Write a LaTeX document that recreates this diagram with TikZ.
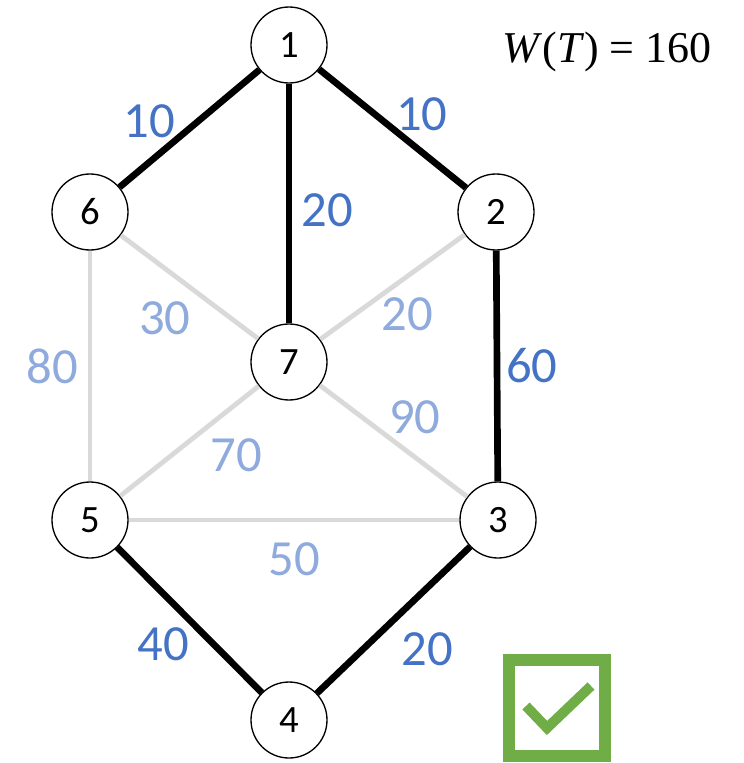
\documentclass[tikz,border=0pt]{standalone}
\usepackage{fontspec}
\setmainfont{Carlito}
\newfontfamily\timesfont{Liberation Serif}
\usetikzlibrary{positioning}
\definecolor{treeblue}{HTML}{4472C4}
\definecolor{restblue}{HTML}{8FAADC}
\definecolor{restgray}{HTML}{D9D9D9}
\definecolor{okgreen}{HTML}{70AD47}
\tikzset{wgt/.style={draw=none, fill=none, minimum size=0pt,
  inner sep=1pt, font=\fontsize{38}{38}\selectfont},
  tree/.style={draw=black, line width=5pt},
  rest/.style={draw=restgray, line width=3.6pt}}

\begin{document}
\begin{tikzpicture}[x=0.75pt, y=-0.75pt, every node/.style={circle, draw,
  line width=1pt, minimum size=57pt, inner sep=0pt,
  font=\fontsize{29}{29}\selectfont}]
  \useasboundingbox (0,0) rectangle (743,763);
  \node (n1) at (289, 45)  {1};
  \node (n6) at (90, 212)  {6};
  \node (n2) at (496, 212) {2};
  \node (n7) at (289, 362) {7};
  \node (n5) at (90, 520)  {5};
  \node (n3) at (498, 520) {3};
  \node (n4) at (289, 720) {4};
  % Spanning tree edges
  \draw[tree] (n1) -- node[wgt, treeblue, pos=0.6,
    above left=-3pt and 2pt] {10} (n6);
  \draw[tree] (n1) -- node[wgt, treeblue, pos=0.54,
    above right=-3pt and 0pt] {10} (n2);
  \draw[tree] (n1) -- node[wgt, treeblue, pos=0.53, right=4pt] {20} (n7);
  \draw[tree] (n2) -- node[wgt, treeblue, right=1pt] {60} (n3);
  \draw[tree] (n5) -- node[wgt, treeblue, below left=1pt and 2pt] {40} (n4);
  \draw[tree] (n3) -- node[wgt, treeblue, pos=0.45,
    below right=10pt and 2pt] {20} (n4);
  % Remaining edges (grey)
  \draw[rest] (n6) -- node[wgt, restblue, left=3pt] {80} (n5);
  \draw[rest] (n6) -- node[wgt, restblue, below left=6pt and 1pt] {30} (n7);
  \draw[rest] (n2) -- node[wgt, restblue, pos=0.56,
    below right=-2pt and 0pt] {20} (n7);
  \draw[rest] (n7) -- node[wgt, restblue, pos=0.46,
    above right=-3pt and 3pt] {90} (n3);
  \draw[rest] (n7) -- node[wgt, restblue, pos=0.36,
    below right=5pt and 3pt] {70} (n5);
  \draw[rest] (n5) -- node[wgt, restblue, below=5pt] {50} (n3);
  % Tree weight and check box
  \node[draw=none, minimum size=0pt, font=\fontsize{33}{33}\selectfont]
    (wt) at (607, 52) {\timesfont\textit{W}(\textit{T}) = 160};
  \draw[okgreen, line width=9pt] (509, 660) rectangle (605, 756);
  \draw[okgreen, line width=7.5pt] (526, 706) -- (547, 728) -- (591, 686);
\end{tikzpicture}
\end{document}
